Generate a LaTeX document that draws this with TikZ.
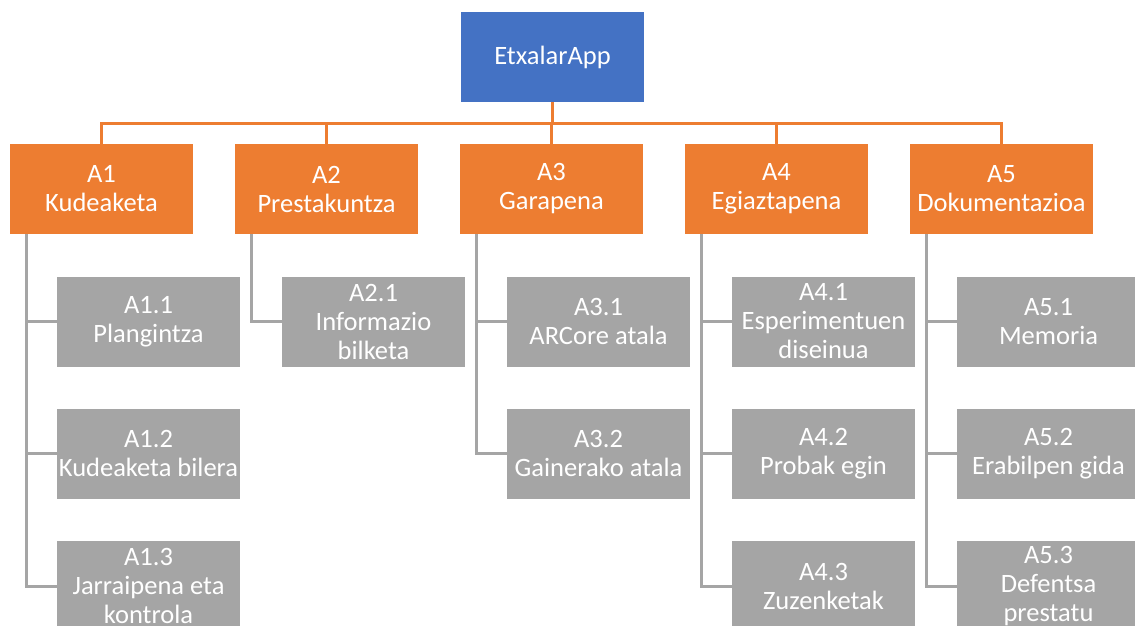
\documentclass[tikz,border=0pt]{standalone}
\usepackage{fontspec}
\setmainfont{Carlito}
\usetikzlibrary{positioning}
\definecolor{appblue}{HTML}{4472C4}
\definecolor{taskorange}{HTML}{ED7D31}
\definecolor{subgray}{HTML}{A5A5A5}
\tikzset{
  box/.style = {minimum width=183pt, minimum height=90pt, inner sep=0pt, align=center,
                text=white, font=\fontsize{26.5}{29}\selectfont},
  app/.style = {box, fill=appblue},
  task/.style = {box, fill=taskorange},
  sub/.style = {box, fill=subgray},
  topline/.style = {taskorange, line width=3pt},
  subline/.style = {subgray, line width=3pt}
}
\begin{document}
\begin{tikzpicture}[x=1pt,y=-1pt]
\clip (0,0) rectangle (1135,626);
\fill[white] (0,0) rectangle (1135,626);

\node[app] (app) at (552.5,57) {EtxalarApp};

% first level
\node[task] (A1) at (101.5,189) {A1\\Kudeaketa};
\node[task] (A2) at (326.5,189) {A2\\Prestakuntza};
\node[task] (A3) at (551.5,189) {A3\\Garapena};
\node[task] (A4) at (776.5,189) {A4\\Egiaztapena};
\node[task] (A5) at (1001.5,189) {A5\\Dokumentazioa};

\foreach \t in {A1,A2,A3,A4,A5}
  \draw[topline] (app.south) -- ++(0,21) -| (\t.north);

% second level
\node[sub] (A11) at (148.5,321.5) {A1.1\\Plangintza};
\node[sub] (A12) at (148.5,453.5) {A1.2\\Kudeaketa bilera};
\node[sub] (A13) at (148.5,586) {A1.3\\Jarraipena eta\\kontrola};

\node[sub] (A21) at (373.5,321.5) {A2.1\\Informazio\\bilketa};

\node[sub] (A31) at (598.5,321.5) {A3.1\\ARCore atala};
\node[sub] (A32) at (598.5,453.5) {A3.2\\Gainerako atala};

\node[sub] (A41) at (823.5,321.5) {A4.1\\Esperimentuen\\diseinua};
\node[sub] (A42) at (823.5,453.5) {A4.2\\Probak egin};
\node[sub] (A43) at (823.5,586) {A4.3\\Zuzenketak};

\node[sub] (A51) at (1048.5,321.5) {A5.1\\Memoria};
\node[sub] (A52) at (1048.5,453.5) {A5.2\\Erabilpen gida};
\node[sub] (A53) at (1048.5,586) {A5.3\\Defentsa\\prestatu};

\foreach \p/\c in {A1/A11,A1/A12,A1/A13,A2/A21,A3/A31,A3/A32,
                   A4/A41,A4/A42,A4/A43,A5/A51,A5/A52,A5/A53}
  \draw[subline] ([xshift=17pt]\p.south west) |- (\c.west);
\end{tikzpicture}
\end{document}
